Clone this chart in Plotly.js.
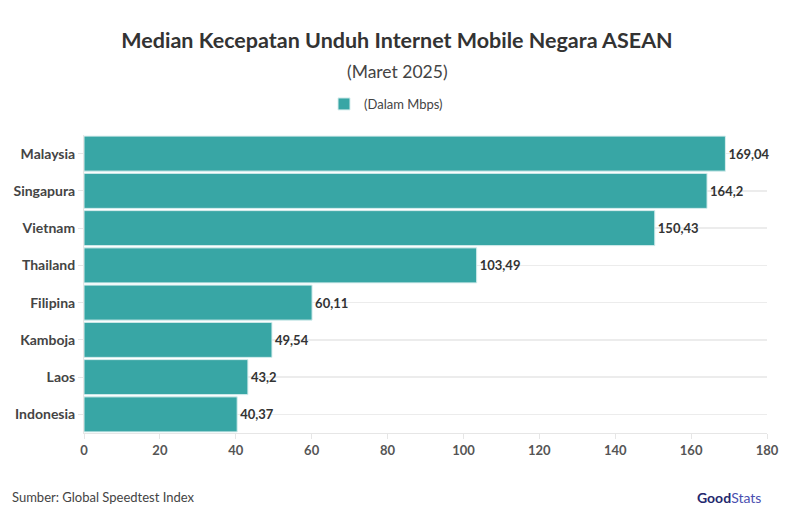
<!DOCTYPE html>
<html><head><meta charset="utf-8">
<script src="https://cdn.plot.ly/plotly-3.0.1.min.js"></script>
<style>body{margin:0;background:#fff}#c{width:794px;height:530px}</style>
</head><body><div id="c"></div>
<script>
const countries = ["Malaysia","Singapura","Vietnam","Thailand","Filipina","Kamboja","Laos","Indonesia"];
const speeds = [169.04,164.2,150.43,103.49,60.11,49.54,43.2,40.37];
const xTicks = [0,20,40,60,80,100,120,140,160,180];
const seriesName = "(Dalam Mbps)";
const FONT = "Lato, 'Open Sans', sans-serif";

const labels = speeds.map(v => String(v).replace('.', ','));

// pixel -> paper helpers (plot area: x 84..767, y 135..433)
const px = x => (x - 84) / 683;
const py = y => (433 - y) / 298;

const trace = {
  type: 'bar', orientation: 'h',
  x: speeds, y: countries, name: seriesName,
  text: labels, textposition: 'outside', cliponaxis: false,
  textfont: {family: FONT, size: 13, color: '#333', weight: 700},
  marker: {color: '#38a6a5', line: {color: '#d8eeee', width: 1}},
  hoverinfo: 'x+y'
};

const layout = {
  width: 794, height: 530,
  margin: {l: 84, r: 27, t: 135, b: 97},
  paper_bgcolor: '#fff', plot_bgcolor: '#fff',
  font: {family: FONT, color: '#333'},
  bargap: 0.06,
  showlegend: true,
  legend: {orientation: 'h', x: px(386), xanchor: 'center', y: py(104), yanchor: 'middle',
           itemwidth: 30, font: {size: 13, color: '#444', family: FONT}},
  title: {text: '<b>Median Kecepatan Unduh Internet Mobile Negara ASEAN</b>',
          x: 0.5, xanchor: 'center', y: 1 - 40/530, yanchor: 'middle',
          font: {size: 21.5, color: '#333', family: FONT}},
  xaxis: {range: [0, 180], tickvals: xTicks, ticktext: xTicks.map(String),
          showgrid: false, zeroline: false, showline: true, linecolor: '#e6e6e6', linewidth: 1,
          ticks: 'outside', ticklen: 5, tickcolor: '#e6e6e6',
          tickfont: {size: 13, color: '#555', family: FONT, weight: 700}, fixedrange: true},
  yaxis: {autorange: 'reversed', showgrid: true, gridcolor: '#ececec', gridwidth: 1.5,
          showline: true, linecolor: '#e6e6e6', ticks: 'outside', ticklen: 5, tickcolor: '#e6e6e6',
          tickfont: {size: 14, color: '#444', family: FONT, weight: 700}, fixedrange: true},
  annotations: [
    {text: '(Maret 2025)', xref: 'paper', yref: 'paper', x: px(397), y: py(72),
     xanchor: 'center', yanchor: 'middle', showarrow: false,
     font: {size: 17.5, color: '#444', family: FONT}},
    {text: 'Sumber: Global Speedtest Index', xref: 'paper', yref: 'paper',
     x: px(10), y: py(497), xanchor: 'left', yanchor: 'middle', showarrow: false,
     font: {size: 13, color: '#444', family: FONT}},
    {text: '<b>Good</b><span style="color:#4a4fb0">Stats</span>', xref: 'paper', yref: 'paper',
     x: px(763), y: py(497), xanchor: 'right', yanchor: 'middle', showarrow: false,
     font: {size: 14, color: '#23276e', family: FONT}}
  ]
};

Plotly.newPlot('c', [trace], layout, {displayModeBar: false, staticPlot: true});
</script></body></html>
